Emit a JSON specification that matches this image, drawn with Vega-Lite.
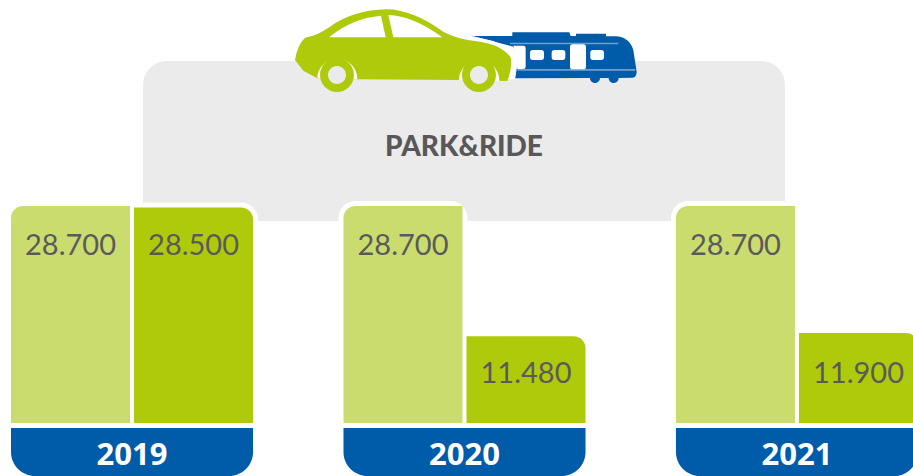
{"$schema":"https://vega.github.io/schema/vega-lite/v6.json","width":913,"height":476,"padding":0,"autosize":"none","background":"white","config":{"view":{"stroke":null},"axis":{"disable":true}},"resolve":{"scale":{"x":"independent","y":"independent"}},"layer":[{"data":{"values":[{"label":"PARK&RIDE"}]},"layer":[{"mark":{"type":"rect","color":"#ebebeb","cornerRadiusTopLeft":24,"cornerRadiusTopRight":24},"encoding":{"x":{"datum":143,"type":"quantitative","scale":{"domain":[0,913],"range":[0,913],"nice":false},"axis":null},"x2":{"datum":785},"y":{"datum":61,"type":"quantitative","scale":{"domain":[0,476],"range":[0,476],"nice":false},"axis":null},"y2":{"datum":221}}},{"mark":{"type":"text","font":"Lato","fontWeight":900,"fontSize":28,"color":"#58585a","align":"center","baseline":"alphabetic"},"encoding":{"x":{"datum":464,"type":"quantitative"},"y":{"datum":156,"type":"quantitative"},"text":{"field":"label"}}},{"data":{"values":[{"part":"train"},{"part":"stripes"},{"part":"windows"},{"part":"gap"},{"part":"car"},{"part":"glass"},{"part":"arches"},{"part":"wheels"},{"part":"hubs"}]},"mark":{"type":"point","filled":true,"opacity":1,"size":0.4444,"strokeWidth":0},"encoding":{"x":{"datum":280,"type":"quantitative"},"y":{"datum":0,"type":"quantitative"},"shape":{"field":"part","type":"nominal","legend":null,"scale":{"domain":["train","stripes","windows","gap","car","glass","arches","wheels","hubs"],"range":["M575,108 L697,108 L697,97 L868,97 L872,108 L888,108 L888,101 L978,101 L978,109 L1010,109 Q1048,112 1060,150 L1070,215 Q1070,232 1058,233 L1016,234 A15,15 0 0 1 986,234 L960,234 A15,15 0 0 1 930,234 L705,235 L712,180 L700,140 Z","M690,128 H1015 V133 H690 Z M712,207 H1066 V212 H712 Z","M700,137 H730 Q737,137 737,144 V200 Q737,207 730,207 H712 Z M758,150 H784 Q792,150 792,158 V172 Q792,180 784,180 H758 Q750,180 750,172 V158 Q750,150 758,150 Z M823,150 H848 Q856,150 856,158 V172 Q856,180 848,180 H823 Q815,180 815,172 V158 Q815,150 823,150 Z M878,133 H910 Q918,133 918,141 V200 Q918,208 910,208 H878 Q870,208 870,200 V141 Q870,133 878,133 Z M939,150 H964 Q972,150 972,158 V172 Q972,180 964,180 H939 Q931,180 931,172 V158 Q931,150 939,150 Z","M575,108 L640,123 Q700,145 712,195 L705,238 L680,238 L690,170 Z","M45,180 Q52,135 75,113 Q110,108 150,80 Q220,30 320,28 Q395,28 490,95 Q530,118 600,125 Q665,135 692,172 Q698,205 682,243 L537,240 L232,238 L112,235 L70,212 Z","M147,112 Q215,55 303,47 L317,112 Z M325,45 Q400,48 487,112 L340,112 Z","M112,235 A60,60 0 0 1 232,238 Z M537,240 A60,60 0 0 1 658,243 Z","M120,225 A51,51 0 1 0 222,225 A51,51 0 1 0 120,225 Z M546,225 A51,51 0 1 0 648,225 A51,51 0 1 0 546,225 Z","M144,225 A27,27 0 1 0 198,225 A27,27 0 1 0 144,225 Z M570,225 A27,27 0 1 0 624,225 A27,27 0 1 0 570,225 Z"]}},"color":{"field":"part","type":"nominal","legend":null,"scale":{"domain":["train","stripes","windows","gap","car","glass","arches","wheels","hubs"],"range":["#005ca9","#6f9fd2","#ffffff","#ffffff","#afca0b","#ffffff","#ffffff","#afca0b","#ebebeb"]}}}}]},{"data":{"values":[{"year":"2019","series":"a","value":28700,"label":"28.700"},{"year":"2019","series":"b","value":28500,"label":"28.500"},{"year":"2020","series":"a","value":28700,"label":"28.700"},{"year":"2020","series":"b","value":11480,"label":"11.480"},{"year":"2021","series":"a","value":28700,"label":"28.700"},{"year":"2021","series":"b","value":11900,"label":"11.900"}]},"encoding":{"x":{"field":"year","type":"ordinal","axis":null,"scale":{"domain":["2019","2020","2021"],"range":[11,918],"paddingInner":0.272,"paddingOuter":0}},"y":{"field":"value","type":"quantitative","axis":null,"stack":null,"scale":{"domain":[-7010,55945],"zero":false,"nice":false}}},"layer":[{"mark":{"type":"bar","fill":"white","stroke":"white","strokeWidth":10,"cornerRadius":12},"encoding":{"xOffset":{"field":"series","scale":{"domain":["a","b"],"paddingInner":0.0325,"paddingOuter":0}}}},{"transform":[{"filter":"datum.series==='a'"}],"mark":{"type":"bar","color":"#cbdc6e","cornerRadiusTopLeft":12},"encoding":{"xOffset":{"field":"series"}}},{"transform":[{"filter":"datum.series==='b'"}],"mark":{"type":"bar","color":"#afca0b","cornerRadiusTopRight":12},"encoding":{"xOffset":{"field":"series"}}},{"transform":[{"filter":"datum.series==='a'"}],"mark":{"type":"text","font":"Lato","fontSize":29,"color":"#5a5a5c","align":"center","baseline":"alphabetic","dy":49},"encoding":{"xOffset":{"field":"series"},"text":{"field":"label"}}},{"transform":[{"filter":"datum.series==='b' && datum.year!=='2021'"}],"mark":{"type":"text","font":"Lato","fontSize":29,"color":"#5a5a5c","align":"center","baseline":"alphabetic","dy":47},"encoding":{"xOffset":{"field":"series"},"text":{"field":"label"}}},{"transform":[{"filter":"datum.series==='b' && datum.year==='2021'"}],"mark":{"type":"text","font":"Lato","fontSize":29,"color":"#5a5a5c","align":"center","baseline":"alphabetic","dy":50},"encoding":{"xOffset":{"field":"series"},"text":{"field":"label"}}},{"transform":[{"filter":"datum.series==='a'"}],"mark":{"type":"bar","color":"#005ca9","cornerRadiusBottomLeft":24,"cornerRadiusBottomRight":24},"encoding":{"y":{"datum":-661,"type":"quantitative"},"y2":{"datum":-7010}}},{"transform":[{"filter":"datum.series==='a'"}],"mark":{"type":"text","font":"Open Sans","fontWeight":"bold","fontSize":31,"color":"white","align":"center","baseline":"alphabetic"},"encoding":{"y":{"datum":-5600,"type":"quantitative"},"text":{"field":"year"}}}]}]}
